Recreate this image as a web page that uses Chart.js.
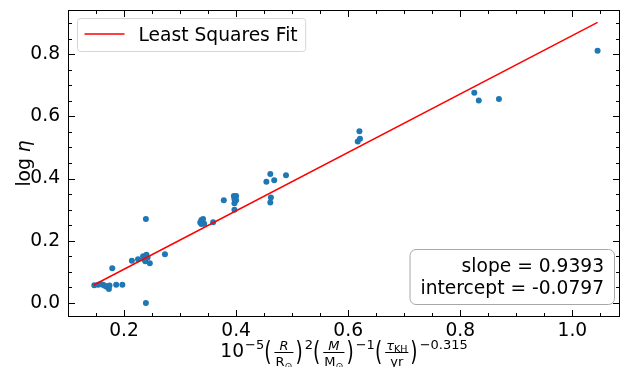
<!DOCTYPE html>
<html>
<head>
<meta charset="utf-8">
<script src="https://cdn.jsdelivr.net/npm/chart.js@4"></script>
<style>
  body { margin: 0; background: #fff; }
  canvas { display: block; }
</style>
</head>
<body>
<canvas id="chart" width="628" height="367"></canvas>
<script>
const ptsX = [0.147, 0.154, 0.158, 0.162, 0.165, 0.168, 0.171, 0.173, 0.174, 0.179, 0.186, 0.197,
  0.214, 0.225, 0.234, 0.237, 0.240, 0.238, 0.242, 0.236, 0.246, 0.239, 0.239, 0.273,
  0.336, 0.338, 0.341, 0.343, 0.338, 0.359, 0.378, 0.396, 0.400, 0.397, 0.400, 0.397, 0.397,
  0.454, 0.461, 0.468, 0.462, 0.461, 0.489, 0.617, 0.620, 0.621, 0.825, 0.833, 0.869, 1.045];
const ptsY = [0.057, 0.059, 0.061, 0.059, 0.056, 0.053, 0.051, 0.045, 0.056, 0.112, 0.059, 0.059,
  0.136, 0.141, 0.150, 0.144, 0.155, 0.134, 0.146, 0.140, 0.128, 0.000, 0.270, 0.157,
  0.259, 0.267, 0.270, 0.255, 0.254, 0.260, 0.330, 0.344, 0.344, 0.334, 0.330, 0.321, 0.300,
  0.390, 0.415, 0.395, 0.339, 0.323, 0.411, 0.519, 0.552, 0.528, 0.676, 0.651, 0.656, 0.811];

// fit line end points
const fitX = [0.146, 1.045];
const fitY = [0.058, 0.902];
const fitLabel = 'Least Squares Fit';
const statLines = ['slope = 0.9393', 'intercept = -0.0797'];

const xTicks = [0.2, 0.4, 0.6, 0.8, 1.0];
const yTicks = [0.0, 0.2, 0.4, 0.6, 0.8];

const FONT = 'DejaVu Sans';
const FS = 18.67;   // 14pt
const FS2 = 13;     // super/sub
const FS3 = 9.5;    // sub of sub
Chart.defaults.font.family = FONT;

const toPts = (xs, ys) => xs.map((x, i) => ({x, y: ys[i]}));

const drawParen = (ctx, ch, x, cy) => {
  ctx.save();
  ctx.font = `${FS}px ${FONT}`;
  ctx.textBaseline = 'middle';
  ctx.translate(x, cy);
  ctx.scale(1, 1.4);
  ctx.fillText(ch, 0, 0);
  ctx.restore();
};

// x label: 10^-5 (R/R_sun)^2 (M/M_sun)^-1 (tau_KH/yr)^-0.315
const drawXLabel = (ctx, cx, base) => {
  const parts = [
    {t: 'text', s: '10', f: FS, dy: 0},
    {t: 'text', s: '\u22125', f: FS2, dy: -8, gap: 1},
    {t: 'paren', s: '('},
    {t: 'frac', num: [['R', FS2, 'italic ', 0]], den: [['R', FS2, '', 0], ['\u2299', FS3, '', 3]]},
    {t: 'paren', s: ')'},
    {t: 'text', s: '2', f: FS2, dy: -8, gap: 1},
    {t: 'paren', s: '('},
    {t: 'frac', num: [['M', FS2, 'italic ', 0]], den: [['M', FS2, '', 0], ['\u2299', FS3, '', 3]]},
    {t: 'paren', s: ')'},
    {t: 'text', s: '\u22121', f: FS2, dy: -8, gap: 1},
    {t: 'paren', s: '('},
    {t: 'frac', num: [['\u03c4', FS2, 'italic ', 0], ['KH', FS3, '', 2]], den: [['yr', FS2, '', 0]]},
    {t: 'paren', s: ')'},
    {t: 'text', s: '\u22120.315', f: FS2, dy: -8, gap: 1},
  ];
  const runWidth = (run) => run.reduce((w, [s, f, st]) => {
    ctx.font = `${st}${f}px ${FONT}`;
    return w + ctx.measureText(s).width;
  }, 0);
  const widthOf = (p) => {
    if (p.t === 'text') { ctx.font = `${p.f}px ${FONT}`; return ctx.measureText(p.s).width + (p.gap || 0); }
    if (p.t === 'paren') { ctx.font = `${FS}px ${FONT}`; return ctx.measureText(p.s).width + 1; }
    return Math.max(runWidth(p.num), runWidth(p.den)) + 6;
  };
  const total = parts.reduce((w, p) => w + widthOf(p), 0);
  let x = cx - total / 2;
  ctx.save();
  ctx.fillStyle = '#000';
  ctx.textAlign = 'left';
  ctx.textBaseline = 'alphabetic';
  const drawRun = (run, x0, y) => {
    let xx = x0;
    run.forEach(([s, f, st, dy]) => {
      ctx.font = `${st}${f}px ${FONT}`;
      ctx.fillText(s, xx, y + dy);
      xx += ctx.measureText(s).width;
    });
  };
  parts.forEach((p) => {
    const w = widthOf(p);
    if (p.t === 'text') {
      ctx.font = `${p.f}px ${FONT}`;
      ctx.fillText(p.s, x + (p.gap || 0), base + p.dy);
    } else if (p.t === 'paren') {
      drawParen(ctx, p.s, x, base - 4);
    } else {
      const nw = runWidth(p.num), dw = runWidth(p.den);
      drawRun(p.num, x + (w - nw) / 2, base - 7.5);
      drawRun(p.den, x + (w - dw) / 2, base + 8.5);
      ctx.fillRect(x + 2, base - 5, w - 4, 1);
    }
    x += w;
  });
  ctx.restore();
};

const roundBox = (ctx, x, y, w, h, r) => {
  ctx.beginPath();
  ctx.roundRect(x, y, w, h, r);
};

const decorPlugin = {
  id: 'decor',
  afterDraw(chart) {
    const {ctx, chartArea: a, scales: {x: sx, y: sy}} = chart;
    ctx.save();
    // frame
    ctx.strokeStyle = '#000';
    ctx.lineWidth = 1;
    ctx.strokeRect(a.left + 0.5, a.top + 0.5, a.right - a.left - 1, a.bottom - a.top - 1);
    // inward ticks, all four sides
    const tick = (len, vals, isX) => {
      vals.forEach((v) => {
        if (isX) {
          const px = Math.round(sx.getPixelForValue(v)) + 0.5;
          if (px < a.left || px > a.right) return;
          ctx.beginPath();
          ctx.moveTo(px, a.bottom); ctx.lineTo(px, a.bottom - len);
          ctx.moveTo(px, a.top); ctx.lineTo(px, a.top + len);
          ctx.stroke();
        } else {
          const py = Math.round(sy.getPixelForValue(v)) + 0.5;
          if (py < a.top || py > a.bottom) return;
          ctx.beginPath();
          ctx.moveTo(a.left, py); ctx.lineTo(a.left + len, py);
          ctx.moveTo(a.right, py); ctx.lineTo(a.right - len, py);
          ctx.stroke();
        }
      });
    };
    const minors = (lo, hi, step) => {
      const out = [];
      for (let v = Math.ceil(lo / step) * step; v <= hi; v += step) out.push(+v.toFixed(4));
      return out;
    };
    tick(7, xTicks, true);
    tick(7, yTicks, false);
    tick(4, minors(sx.min, sx.max, 0.05), true);
    tick(4, minors(sy.min, sy.max, 0.05), false);

    // legend
    ctx.font = `${FS}px ${FONT}`;
    const lw = ctx.measureText(fitLabel).width;
    const lx = a.left + 9.5, ly = a.top + 8.5;
    roundBox(ctx, lx, ly, lw + 69, 33, 3);
    ctx.fillStyle = 'rgba(255,255,255,0.8)';
    ctx.fill();
    ctx.strokeStyle = '#d5d5d5';
    ctx.stroke();
    ctx.strokeStyle = 'red';
    ctx.lineWidth = 1.5;
    ctx.beginPath();
    ctx.moveTo(lx + 7, ly + 15.5); ctx.lineTo(lx + 47, ly + 15.5);
    ctx.stroke();
    ctx.fillStyle = '#000';
    ctx.textAlign = 'left';
    ctx.textBaseline = 'alphabetic';
    ctx.fillText(fitLabel, lx + 61, ly + 22.5);

    // slope / intercept box
    const sw = Math.max(...statLines.map((s) => ctx.measureText(s).width));
    const bx = a.right - 5.5, by = a.bottom - 12.5;
    roundBox(ctx, bx - sw - 21, by - 55, sw + 21, 55, 6);
    ctx.fillStyle = '#fff';
    ctx.fill();
    ctx.strokeStyle = '#a8a8a8';
    ctx.lineWidth = 1;
    ctx.stroke();
    ctx.fillStyle = '#000';
    ctx.textAlign = 'right';
    ctx.fillText(statLines[0], bx - 10.5, by - 32.5);
    ctx.fillText(statLines[1], bx - 10.5, by - 11);

    // y label
    ctx.save();
    ctx.translate(30, (a.top + a.bottom) / 2);
    ctx.rotate(-Math.PI / 2);
    ctx.textAlign = 'left';
    ctx.font = `${FS}px ${FONT}`;
    const w1 = ctx.measureText('log ').width;
    ctx.font = `italic ${FS}px ${FONT}`;
    const w2 = ctx.measureText('\u03b7').width;
    ctx.font = `${FS}px ${FONT}`;
    ctx.fillText('log ', -(w1 + w2) / 2, 0);
    ctx.font = `italic ${FS}px ${FONT}`;
    ctx.fillText('\u03b7', -(w1 + w2) / 2 + w1, 0);
    ctx.restore();

    // x label
    drawXLabel(ctx, (a.left + a.right) / 2, 357);
    ctx.restore();
  }
};

new Chart(document.getElementById('chart').getContext('2d'), {
  type: 'scatter',
  data: {
    datasets: [
      {
        type: 'line',
        label: fitLabel,
        data: toPts(fitX, fitY),
        borderColor: 'red',
        borderWidth: 1.5,
        pointRadius: 0,
        fill: false,
        order: 0
      },
      {
        label: 'data',
        data: toPts(ptsX, ptsY),
        backgroundColor: '#1f77b4',
        borderWidth: 0,
        pointRadius: 3,
        order: 1
      }
    ]
  },
  options: {
    responsive: false,
    animation: false,
    devicePixelRatio: 1,
    layout: { padding: { top: 10, right: 8, left: 0, bottom: 0 } },
    plugins: { legend: { display: false }, tooltip: { enabled: false } },
    scales: {
      x: {
        type: 'linear',
        min: 0.1,
        max: 1.085,
        afterBuildTicks: (s) => { s.ticks = xTicks.map((value) => ({value})); },
        afterFit: (s) => { s.height = 50; s.paddingLeft = 0; s.paddingRight = 0; },
        grid: { display: false, drawTicks: false },
        border: { display: false },
        ticks: {
          font: { size: FS },
          color: '#000',
          padding: 3,
          maxRotation: 0,
          autoSkip: false,
          callback: (v) => v.toFixed(1)
        }
      },
      y: {
        type: 'linear',
        min: -0.045,
        max: 0.942,
        afterBuildTicks: (s) => { s.ticks = yTicks.map((value) => ({value})); },
        afterFit: (s) => { s.width = 68; s.paddingTop = 0; s.paddingBottom = 0; },
        grid: { display: false, drawTicks: false },
        border: { display: false },
        ticks: {
          font: { size: FS },
          color: '#000',
          padding: 8,
          autoSkip: false,
          callback: (v) => v.toFixed(1)
        }
      }
    }
  },
  plugins: [decorPlugin]
});
</script>
</body>
</html>
